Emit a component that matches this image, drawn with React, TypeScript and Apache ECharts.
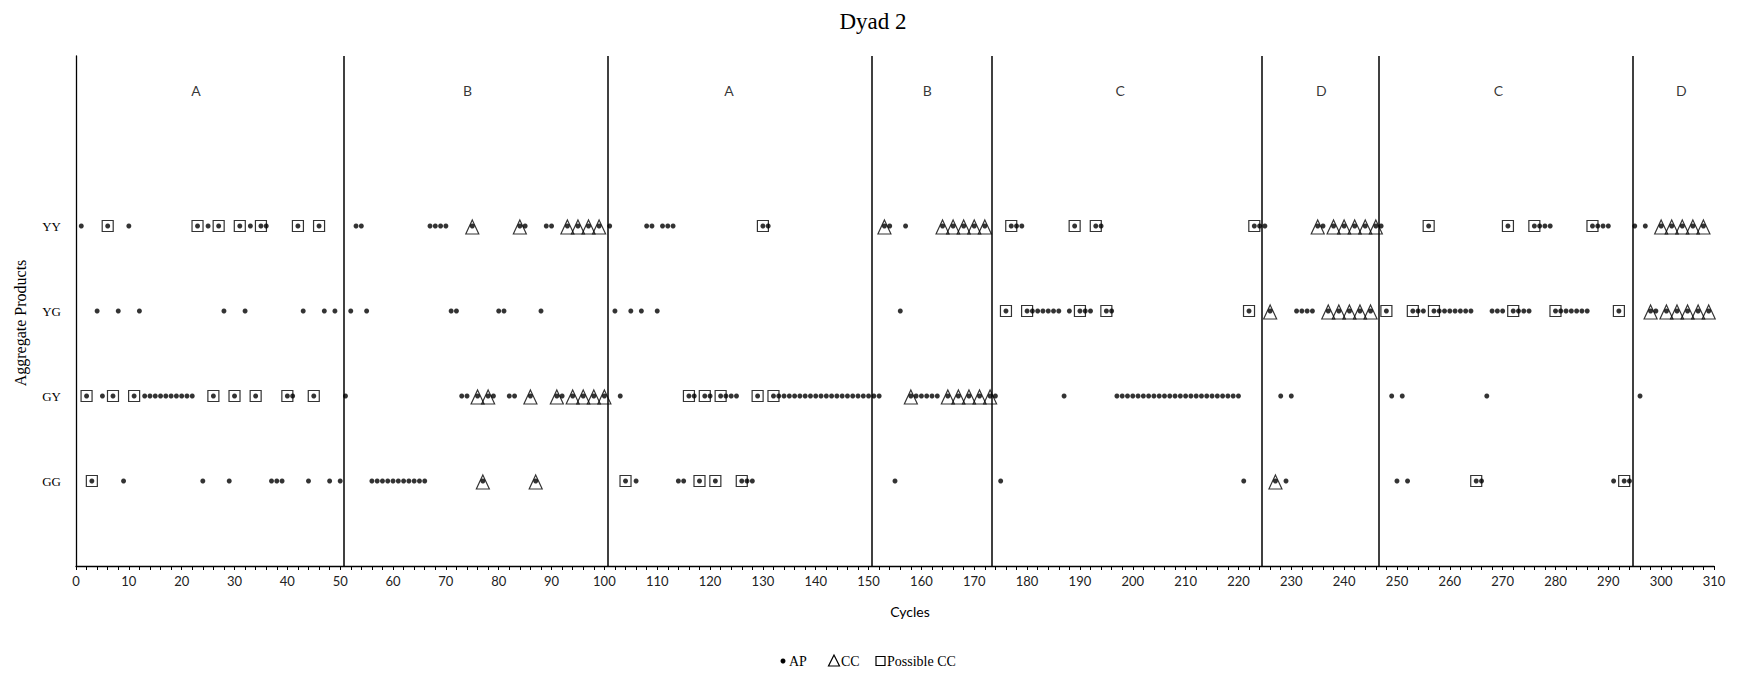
import React, { useEffect, useRef } from "react";
import * as echarts from "echarts";

// Row positions on the y scale: GG=1, GY=2, YG=3, YY=4
const rowLabels: Record<number, string> = { 1: "GG", 2: "GY", 3: "YG", 4: "YY" };

const yyAP = [1, 6, 10, 23, 25, 27, 31, 33, 35, 36, 42, 46, 53, 54, 67, 68, 69, 70, 75, 84, 85, 89, 90, 93, 95, 97, 99, 101, 108, 109, 111, 112, 113, 130, 131, 153, 154, 157, 164, 166, 168, 170, 172, 177, 178, 179, 189, 193, 194, 223, 224, 225, 235, 236, 238, 240, 242, 244, 246, 247, 256, 271, 276, 277, 278, 279, 287, 288, 289, 290, 295, 297, 300, 302, 304, 306, 308];
const yyCC = [75, 84, 93, 95, 97, 99, 153, 164, 166, 168, 170, 172, 235, 238, 240, 242, 244, 246, 300, 302, 304, 306, 308];
const yyPCC = [6, 23, 27, 31, 35, 42, 46, 130, 177, 189, 193, 223, 256, 271, 276, 287];

const ygAP = [4, 8, 12, 28, 32, 43, 47, 49, 52, 55, 71, 72, 80, 81, 88, 102, 105, 107, 110, 156, 176, 180, 181, 182, 183, 184, 185, 186, 188, 190, 191, 192, 195, 196, 222, 226, 231, 232, 233, 234, 237, 239, 241, 243, 245, 248, 253, 254, 255, 257, 258, 259, 260, 261, 262, 263, 264, 268, 269, 270, 272, 273, 274, 275, 280, 281, 282, 283, 284, 285, 286, 292, 298, 299, 301, 303, 305, 307, 309];
const ygCC = [226, 237, 239, 241, 243, 245, 298, 301, 303, 305, 307, 309];
const ygPCC = [176, 180, 190, 195, 222, 248, 253, 257, 272, 280, 292];

const gyAP = [2, 5, 7, 11, 13, 14, 15, 16, 17, 18, 19, 20, 21, 22, 26, 30, 34, 40, 41, 45, 51, 73, 74, 76, 78, 79, 82, 83, 86, 91, 92, 94, 96, 98, 100, 103, 116, 117, 119, 120, 122, 123, 124, 125, 129, 132, 133, 134, 135, 136, 137, 138, 139, 140, 141, 142, 143, 144, 145, 146, 147, 148, 149, 150, 151, 152, 158, 159, 160, 161, 162, 163, 165, 167, 169, 171, 173, 174, 187, 197, 198, 199, 200, 201, 202, 203, 204, 205, 206, 207, 208, 209, 210, 211, 212, 213, 214, 215, 216, 217, 218, 219, 220, 228, 230, 249, 251, 267, 296];
const gyCC = [76, 78, 86, 91, 94, 96, 98, 100, 158, 165, 167, 169, 171, 173];
const gyPCC = [2, 7, 11, 26, 30, 34, 40, 45, 116, 119, 122, 129, 132];

const ggAP = [3, 9, 24, 29, 37, 38, 39, 44, 48, 50, 56, 57, 58, 59, 60, 61, 62, 63, 64, 65, 66, 77, 87, 104, 106, 114, 115, 118, 121, 126, 127, 128, 155, 175, 221, 227, 229, 250, 252, 265, 266, 291, 293, 294];
const ggCC = [77, 87, 227];
const ggPCC = [3, 104, 118, 121, 126, 265, 293];

const phaseBoundaries = [50.6, 100.6, 150.6, 173.4, 224.4, 246.5, 294.6];
const phaseNames = ["A", "B", "A", "B", "C", "D", "C", "D"];
const phaseLabelX = [22.7, 74.1, 123.6, 161.1, 197.6, 235.7, 269.2, 303.8];
const phaseLabelY = 5.6;

const rowsAP: [number[], number][] = [[ggAP, 1], [gyAP, 2], [ygAP, 3], [yyAP, 4]];
const rowsCC: [number[], number][] = [[ggCC, 1], [gyCC, 2], [ygCC, 3], [yyCC, 4]];
const rowsPCC: [number[], number][] = [[ggPCC, 1], [gyPCC, 2], [ygPCC, 3], [yyPCC, 4]];

const toPoints = (rows: [number[], number][]) =>
  rows.flatMap(([xs, y]) => xs.map((x) => [x, y]));

const SERIF = "'Liberation Serif', 'Times New Roman', serif";
const SANS = "Lato, 'Liberation Sans', sans-serif";

export default function App() {
  const ref = useRef<HTMLDivElement>(null);
  useEffect(() => {
    if (!ref.current) return;
    const chart = echarts.init(ref.current, undefined, { renderer: "svg" });
    chart.setOption({
      animation: false,
      backgroundColor: "#fff",
      title: {
        text: "Dyad 2",
        left: "center",
        top: 5,
        textStyle: { fontFamily: SERIF, fontSize: 23, fontWeight: "normal", color: "#000" },
      },
      grid: { left: 76, right: 32, top: 56, bottom: 108, containLabel: false },
      xAxis: {
        type: "value",
        min: 0,
        max: 310,
        interval: 10,
        axisLine: { show: true, lineStyle: { color: "#000", width: 1.3 } },
        axisTick: { show: true, length: 4, lineStyle: { color: "#000" } },
        minorTick: { show: true, splitNumber: 5, length: 4, lineStyle: { color: "#000" } },
        splitLine: { show: false },
        minorSplitLine: { show: false },
        axisLabel: { fontFamily: SANS, fontSize: 13, color: "#222", margin: 8 },
      },
      yAxis: {
        type: "value",
        min: 0,
        max: 6,
        interval: 1,
        axisLine: { show: true, lineStyle: { color: "#000", width: 1.3 } },
        axisTick: { show: false },
        splitLine: { show: false },
        axisLabel: {
          fontFamily: SERIF,
          fontSize: 13,
          color: "#000",
          margin: 15,
          formatter: (v: number) => rowLabels[v] || "",
        },
      },
      graphic: [
        {
          type: "text",
          x: 20,
          y: 323,
          rotation: Math.PI / 2,
          style: {
            text: "Aggregate Products",
            fontFamily: SERIF,
            fontSize: 16,
            fill: "#000",
            align: "center",
            verticalAlign: "middle",
          },
        },
        {
          type: "text",
          x: 910,
          y: 611,
          style: {
            text: "Cycles",
            fontFamily: SANS,
            fontSize: 14,
            fill: "#000",
            align: "center",
            verticalAlign: "middle",
          },
        },
        // legend
        { type: "circle", shape: { cx: 783, cy: 661, r: 2.5 }, style: { fill: "#000" } },
        {
          type: "text",
          x: 789,
          y: 661,
          style: { text: "AP", fontFamily: SERIF, fontSize: 14, fill: "#000", verticalAlign: "middle" },
        },
        {
          type: "polygon",
          shape: { points: [[834, 655], [828.5, 666], [839.5, 666]] },
          style: { fill: "none", stroke: "#000", lineWidth: 1.2 },
        },
        {
          type: "text",
          x: 841,
          y: 661,
          style: { text: "CC", fontFamily: SERIF, fontSize: 14, fill: "#000", verticalAlign: "middle" },
        },
        {
          type: "rect",
          shape: { x: 876, y: 656.5, width: 9, height: 9 },
          style: { fill: "none", stroke: "#000", lineWidth: 1.2 },
        },
        {
          type: "text",
          x: 887,
          y: 661,
          style: { text: "Possible CC", fontFamily: SERIF, fontSize: 14, fill: "#000", verticalAlign: "middle" },
        },
      ],
      series: [
        {
          name: "CC",
          type: "scatter",
          symbol: "triangle",
          symbolSize: [13, 14],
          symbolOffset: [0, 1],
          itemStyle: { color: "rgba(0,0,0,0)", borderColor: "#000", borderWidth: 1.2 },
          data: toPoints(rowsCC),
          z: 2,
        },
        {
          name: "Possible CC",
          type: "scatter",
          symbol: "rect",
          symbolSize: 11,
          itemStyle: { color: "rgba(0,0,0,0)", borderColor: "#000", borderWidth: 1.2 },
          data: toPoints(rowsPCC),
          z: 2,
        },
        {
          name: "AP",
          type: "scatter",
          symbol: "circle",
          symbolSize: 5,
          itemStyle: { color: "#000" },
          data: toPoints(rowsAP),
          z: 3,
          markLine: {
            silent: true,
            symbol: "none",
            label: { show: false },
            lineStyle: { color: "#000", width: 1.5, type: "solid" },
            data: phaseBoundaries.map((v) => ({ xAxis: v })),
          },
        },
        {
          name: "phases",
          type: "scatter",
          symbolSize: 1,
          itemStyle: { color: "rgba(0,0,0,0)" },
          silent: true,
          label: {
            show: true,
            position: "inside",
            formatter: (p: any) => p.value[2],
            fontFamily: SANS,
            fontSize: 14,
            color: "#000",
          },
          data: phaseNames.map((n, i) => [phaseLabelX[i], phaseLabelY, n]),
        },
      ],
    });
    return () => chart.dispose();
  }, []);
  return (
    <div
      ref={ref}
      style={{ position: "fixed", left: 0, top: 0, width: 1746, height: 674, background: "#fff" }}
    />
  );
}
